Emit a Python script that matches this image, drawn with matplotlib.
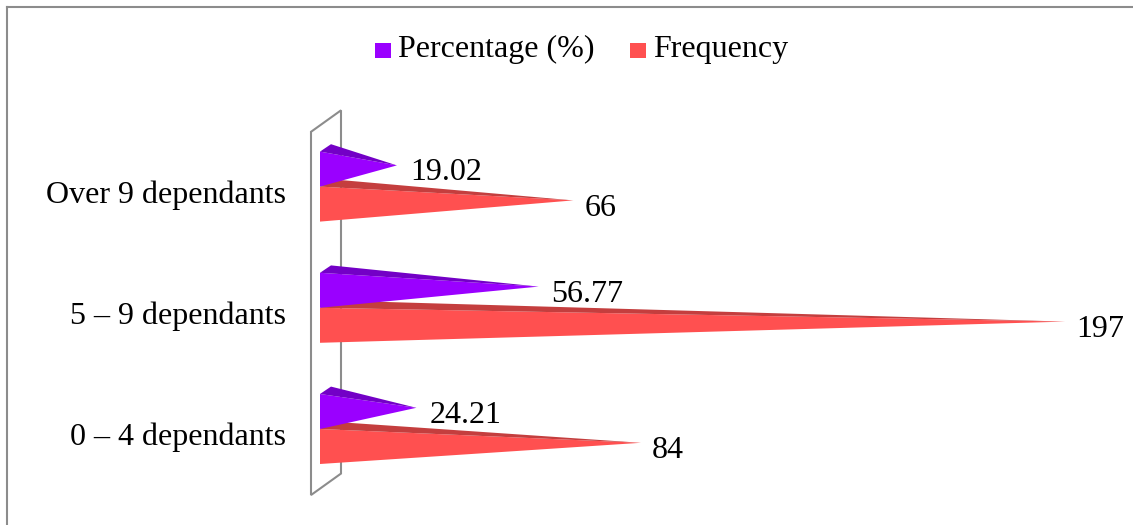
import matplotlib
matplotlib.use("Agg")
import matplotlib.pyplot as plt
from matplotlib.patches import Polygon, Rectangle
from matplotlib.lines import Line2D
from matplotlib.transforms import IdentityTransform

plt.rcParams['font.family'] = ['Liberation Serif', 'DejaVu Serif']

# ---- data ----
categories = ["0 \u2013 4 dependants", "5 \u2013 9 dependants", "Over 9 dependants"]
series_names = ["Percentage (%)", "Frequency"]
percentage = [24.21, 56.77, 19.02]
frequency = [84, 197, 66]

# ---- style ----
W, H = 1133, 525
FONT = 23
PURPLE, PURPLE_TOP = "#9A00FF", "#7300C6"
RED, RED_TOP = "#FF5050", "#C43E3E"
GRAY = "#8c8c8c"
X0_PX, X1_PX = 320, 1059.5      # value-axis origin / end (front plane)
GROUP_PX, BASE_PX = 121.2, 96   # category spacing / first category position
BAR_PX = 35
DX, DY = 11, 7.4                # depth offset of the pyramids

fig = plt.figure(figsize=(W / 100, H / 100), dpi=100)
fig.patch.set_facecolor("white")
ax = fig.add_axes([X0_PX / W, 0, (X1_PX - X0_PX) / W, 1])
ax.set_xlim(0, max(frequency))
ax.set_ylim(-BASE_PX / GROUP_PX, (H - BASE_PX) / GROUP_PX)
ax.axis("off")

bar_h = BAR_PX / GROUP_PX
ident = IdentityTransform()


def pyramid(value, ylo, yhi, face, top):
    xa, ya = ax.transData.transform((0, ylo))
    xb, yb = ax.transData.transform((value, yhi))
    apex = (xb + DX / 2, (ya + yb) / 2 + DY / 2)
    ax.add_patch(Polygon([(xa, ya), (xa, yb), apex], closed=True,
                         facecolor=face, edgecolor="none", clip_on=False,
                         transform=ident, zorder=3))
    ax.add_patch(Polygon([(xa, yb), (xa + DX, yb + DY), apex], closed=True,
                         facecolor=top, edgecolor="none", clip_on=False,
                         transform=ident, zorder=3))


# side wall of the category axis
(wx, wy0) = ax.transData.transform((0, -0.545))
(_, wy1) = ax.transData.transform((0, 2.452))
wall = [(wx - 9, wy0), (wx - 9, wy1), (wx + 21, wy1 + 21.5), (wx + 21, wy0 + 21.5)]
ax.add_patch(Polygon(wall, closed=True, fill=False, edgecolor=GRAY,
                     linewidth=1.5, transform=ident, clip_on=False, zorder=1))

for i, (cat, p, f) in enumerate(zip(categories, percentage, frequency)):
    # frequency below, percentage above the category line
    pyramid(f, i - bar_h, i, RED, RED_TOP)
    pyramid(p, i, i + bar_h, PURPLE, PURPLE_TOP)
    ax.annotate(f"{f:d}", xy=(f, i - bar_h / 2), xytext=(DX / 2 + 11, DY / 2 - 15.5),
                textcoords="offset pixels", ha="left", va="baseline",
                fontsize=FONT, zorder=5)
    ax.annotate(f"{p:.2f}", xy=(p, i + bar_h / 2), xytext=(DX / 2 + 13, DY / 2 - 15),
                textcoords="offset pixels", ha="left", va="baseline",
                fontsize=FONT, zorder=5)
    ax.annotate(cat, xy=(0, i), xytext=(-34, -16), textcoords="offset pixels",
                ha="right", va="baseline", fontsize=FONT)

# legend
legend_items = [(series_names[0], PURPLE, 375, 398), (series_names[1], RED, 630, 653)]
for name, color, sx, tx in legend_items:
    fig.add_artist(Rectangle((sx / W, 1 - 57.5 / H), 16 / W, 15 / H,
                             transform=fig.transFigure, facecolor=color,
                             edgecolor="none"))
    fig.text(tx / W, 1 - 56.7 / H, name, fontsize=FONT, ha="left", va="baseline")

# chart-area border
fig.add_artist(Line2D([7 / W, 7 / W], [0, 1 - 7 / H], transform=fig.transFigure,
                      color=GRAY, linewidth=1.5))
fig.add_artist(Line2D([7 / W, 1], [1 - 7 / H, 1 - 7 / H], transform=fig.transFigure,
                      color=GRAY, linewidth=1.5))

fig.savefig("out.png", dpi=100)
